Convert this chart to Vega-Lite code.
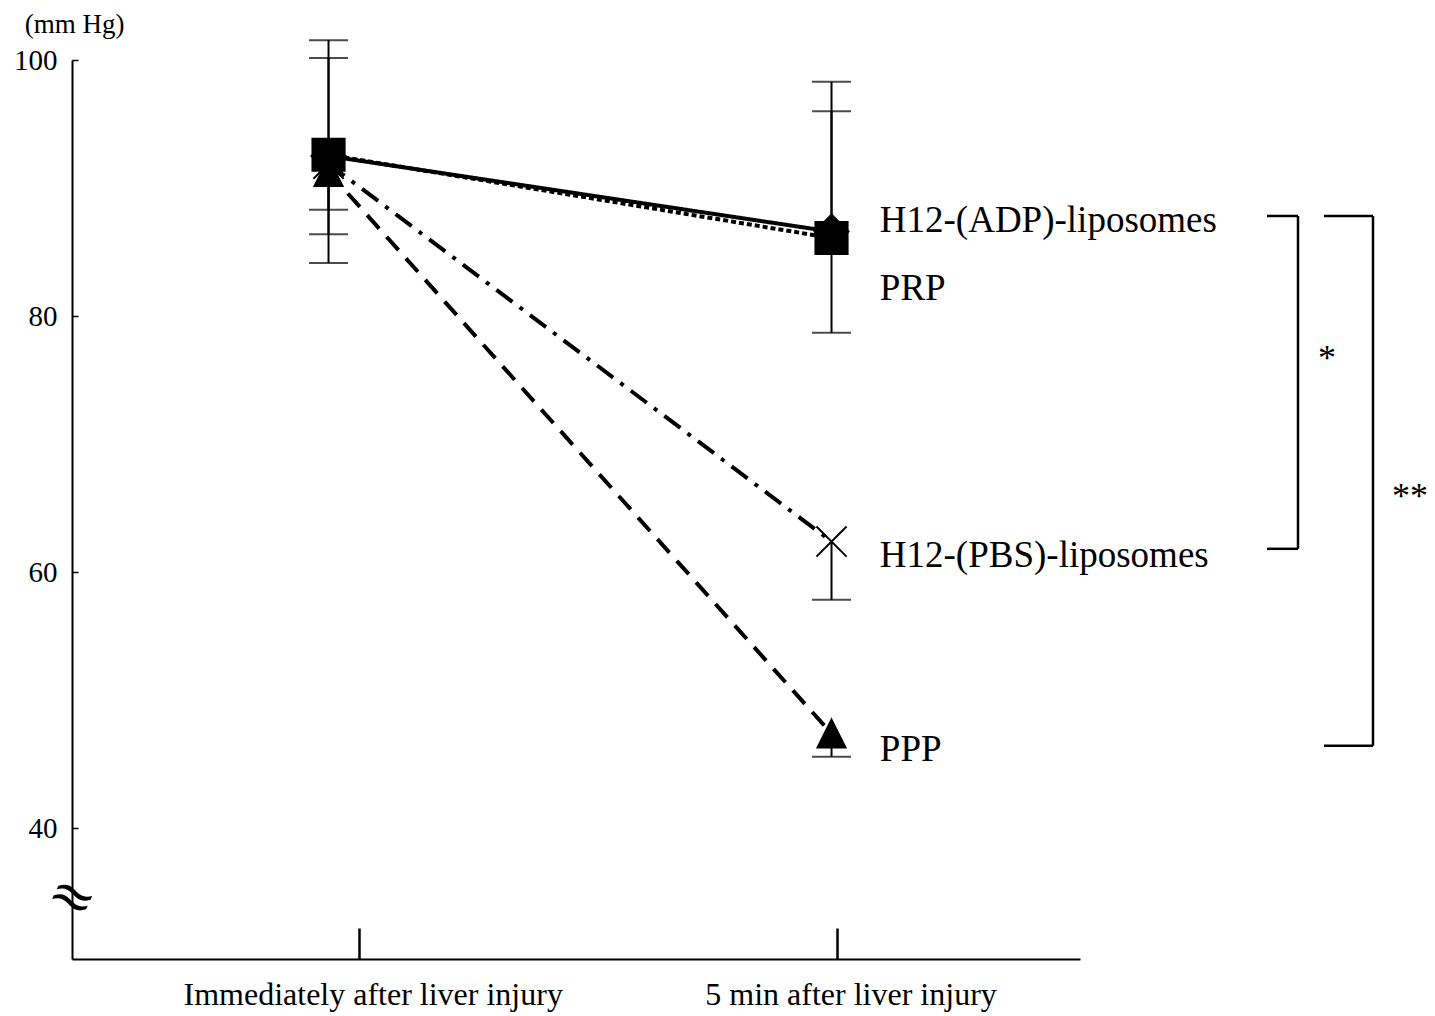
{
  "$schema": "https://vega.github.io/schema/vega-lite/v6.json",
  "width": 1008,
  "height": 899,
  "autosize": {"type": "none"},
  "padding": {"left": 72, "top": 60, "right": 355, "bottom": 57},
  "background": "white",
  "config": {
    "view": {"stroke": null},
    "font": "Liberation Serif",
    "text": {"font": "Liberation Serif", "color": "black"}
  },
  "datasets": {
    "series": [
      {"group": "ADP", "time": 1, "mean": 92.5, "lo": 84.15, "hi": 101.55},
      {"group": "PBS", "time": 1, "mean": 91.9, "lo": 88.3, "hi": null},
      {"group": "PPP", "time": 1, "mean": 91.26, "lo": null, "hi": null},
      {"group": "PRP", "time": 1, "mean": 92.6, "lo": 86.4, "hi": 100.15},
      {"group": "ADP", "time": 2, "mean": 86.6, "lo": 78.7, "hi": 98.3},
      {"group": "PBS", "time": 2, "mean": 62.4, "lo": 57.85, "hi": null},
      {"group": "PPP", "time": 2, "mean": 47.4, "lo": 45.6, "hi": null},
      {"group": "PRP", "time": 2, "mean": 86.1, "lo": null, "hi": 96.0}
    ],
    "labels": [
      {"label": "H12-(ADP)-liposomes", "x": 2.096, "y": 86.57},
      {"label": "PRP", "x": 2.096, "y": 81.27},
      {"label": "H12-(PBS)-liposomes", "x": 2.096, "y": 60.44},
      {"label": "PPP", "x": 2.096, "y": 45.3}
    ],
    "brackets": [
      {"x": 2.8658, "x2": 2.9274, "y": 87.82, "y2": 87.82},
      {"x": 2.9274, "x2": 2.9274, "y": 87.82, "y2": 61.83},
      {"x": 2.8658, "x2": 2.9274, "y": 61.83, "y2": 61.83},
      {"x": 2.9791, "x2": 3.0765, "y": 87.82, "y2": 87.82},
      {"x": 3.0765, "x2": 3.0765, "y": 87.82, "y2": 46.45},
      {"x": 2.9791, "x2": 3.0765, "y": 46.45, "y2": 46.45}
    ],
    "stars": [
      {"t": "*", "x": 2.985, "y": 75.8},
      {"t": "**", "x": 3.15, "y": 65.0}
    ],
    "brk": [
      {"t": "≈", "x": 0.49, "y": 34.56}
    ]
  },
  "layer": [
    {
      "data": {"name": "series"},
      "mark": {"type": "line", "color": "black", "strokeWidth": 4},
      "encoding": {
        "x": {
          "field": "time", "type": "quantitative", "title": null,
          "scale": {"domain": [0.49, 2.494], "nice": false, "zero": false},
          "axis": {
            "values": [1.06, 2.01],
            "labelExpr": "datum.value < 1.5 ? 'Immediately after liver injury' : '5 min after liver injury'",
            "title": null,
            "grid": false,
            "ticks": true,
            "tickSize": -31,
            "tickWidth": 2.5,
            "tickColor": "black",
            "domainColor": "black",
            "domainWidth": 2,
            "labelFont": "Liberation Serif",
            "labelFontSize": 32,
            "labelColor": "black",
            "labelPadding": 51,
            "labelOffset": 14,
            "labelLimit": 0,
            "labelFlush": false,
            "labelBound": false,
            "labelOverlap": false
          }
        },
        "y": {
          "field": "mean", "type": "quantitative", "title": "(mm Hg)",
          "scale": {"domain": [29.8, 100], "nice": false, "zero": false},
          "axis": {
            "values": [40, 60, 80, 100],
            "title": "(mm Hg)",
            "titleAngle": 0,
            "titleX": 2,
            "titleY": -36,
            "titleAlign": "center",
            "titleBaseline": "middle",
            "titleFont": "Liberation Serif",
            "titleFontSize": 27,
            "titleFontWeight": "normal",
            "titleColor": "black",
            "grid": false,
            "tickSize": -6,
            "tickWidth": 1.5,
            "tickColor": "black",
            "domainColor": "black",
            "domainWidth": 2,
            "labelFont": "Liberation Serif",
            "labelFontSize": 29,
            "labelColor": "black",
            "labelPadding": 21,
            "labelLimit": 0,
            "labelFlush": false,
            "labelBound": false,
            "labelOverlap": false
          }
        },
        "strokeDash": {
          "field": "group", "type": "nominal",
          "scale": {"domain": ["ADP", "PRP", "PBS", "PPP"], "range": [[1, 0], [5, 3], [20, 9, 4, 9], [18, 11]]},
          "legend": null
        }
      }
    },
    {
      "data": {"name": "series"},
      "transform": [{"filter": "datum.hi != null"}],
      "mark": {"type": "rule", "color": "black", "strokeWidth": 2},
      "encoding": {
        "x": {"field": "time", "type": "quantitative", "title": null, "scale": {"domain": [0.49, 2.494], "nice": false, "zero": false}},
        "y": {"field": "mean", "type": "quantitative", "title": "(mm Hg)", "scale": {"domain": [29.8, 100], "nice": false, "zero": false}},
        "y2": {"field": "hi"}
      }
    },
    {
      "data": {"name": "series"},
      "transform": [{"filter": "datum.lo != null"}],
      "mark": {"type": "rule", "color": "black", "strokeWidth": 2},
      "encoding": {
        "x": {"field": "time", "type": "quantitative", "title": null, "scale": {"domain": [0.49, 2.494], "nice": false, "zero": false}},
        "y": {"field": "mean", "type": "quantitative", "title": "(mm Hg)", "scale": {"domain": [29.8, 100], "nice": false, "zero": false}},
        "y2": {"field": "lo"}
      }
    },
    {
      "data": {"name": "series"},
      "transform": [{"filter": "datum.hi != null"}],
      "mark": {"type": "tick", "orient": "horizontal", "color": "black", "size": 39, "thickness": 2},
      "encoding": {
        "x": {"field": "time", "type": "quantitative", "title": null, "scale": {"domain": [0.49, 2.494], "nice": false, "zero": false}},
        "y": {"field": "hi", "type": "quantitative", "title": "(mm Hg)", "scale": {"domain": [29.8, 100], "nice": false, "zero": false}}
      }
    },
    {
      "data": {"name": "series"},
      "transform": [{"filter": "datum.lo != null"}],
      "mark": {"type": "tick", "orient": "horizontal", "color": "black", "size": 39, "thickness": 2},
      "encoding": {
        "x": {"field": "time", "type": "quantitative", "title": null, "scale": {"domain": [0.49, 2.494], "nice": false, "zero": false}},
        "y": {"field": "lo", "type": "quantitative", "title": "(mm Hg)", "scale": {"domain": [29.8, 100], "nice": false, "zero": false}}
      }
    },
    {
      "data": {"name": "series"},
      "mark": {"type": "point", "filled": true, "color": "black", "stroke": "black", "strokeWidth": 2, "opacity": 1},
      "encoding": {
        "x": {"field": "time", "type": "quantitative", "title": null, "scale": {"domain": [0.49, 2.494], "nice": false, "zero": false}},
        "y": {"field": "mean", "type": "quantitative", "title": "(mm Hg)", "scale": {"domain": [29.8, 100], "nice": false, "zero": false}},
        "shape": {
          "field": "group", "type": "nominal",
          "scale": {"domain": ["ADP", "PRP", "PBS", "PPP"], "range": ["diamond", "square", "M-1,-1L1,1M-1,1L1,-1", "M0,-1L1,1L-1,1Z"]},
          "legend": null
        },
        "size": {
          "field": "group", "type": "nominal",
          "scale": {"domain": ["ADP", "PRP", "PBS", "PPP"], "range": [1156, 784, 1024, 1024]},
          "legend": null
        }
      }
    },
    {
      "data": {"name": "labels"},
      "mark": {"type": "text", "align": "left", "baseline": "alphabetic", "fontSize": 37, "font": "Liberation Serif", "color": "black"},
      "encoding": {
        "x": {"field": "x", "type": "quantitative", "title": null, "scale": {"domain": [0.49, 2.494], "nice": false, "zero": false}},
        "y": {"field": "y", "type": "quantitative", "title": "(mm Hg)", "scale": {"domain": [29.8, 100], "nice": false, "zero": false}},
        "text": {"field": "label"}
      }
    },
    {
      "data": {"name": "brackets"},
      "mark": {"type": "rule", "color": "black", "strokeWidth": 2.5},
      "encoding": {
        "x": {"field": "x", "type": "quantitative", "title": null, "scale": {"domain": [0.49, 2.494], "nice": false, "zero": false}},
        "x2": {"field": "x2"},
        "y": {"field": "y", "type": "quantitative", "title": "(mm Hg)", "scale": {"domain": [29.8, 100], "nice": false, "zero": false}},
        "y2": {"field": "y2"}
      }
    },
    {
      "data": {"name": "stars"},
      "mark": {"type": "text", "align": "center", "baseline": "alphabetic", "fontSize": 36, "font": "Liberation Serif", "color": "black"},
      "encoding": {
        "x": {"field": "x", "type": "quantitative", "title": null, "scale": {"domain": [0.49, 2.494], "nice": false, "zero": false}},
        "y": {"field": "y", "type": "quantitative", "title": "(mm Hg)", "scale": {"domain": [29.8, 100], "nice": false, "zero": false}},
        "text": {"field": "t"}
      }
    },
    {
      "data": {"name": "brk"},
      "mark": {"type": "text", "align": "center", "baseline": "middle", "fontSize": 56, "angle": 25, "font": "DejaVu Serif", "color": "black"},
      "encoding": {
        "x": {"field": "x", "type": "quantitative", "title": null, "scale": {"domain": [0.49, 2.494], "nice": false, "zero": false}},
        "y": {"field": "y", "type": "quantitative", "title": "(mm Hg)", "scale": {"domain": [29.8, 100], "nice": false, "zero": false}},
        "text": {"field": "t"}
      }
    }
  ]
}
